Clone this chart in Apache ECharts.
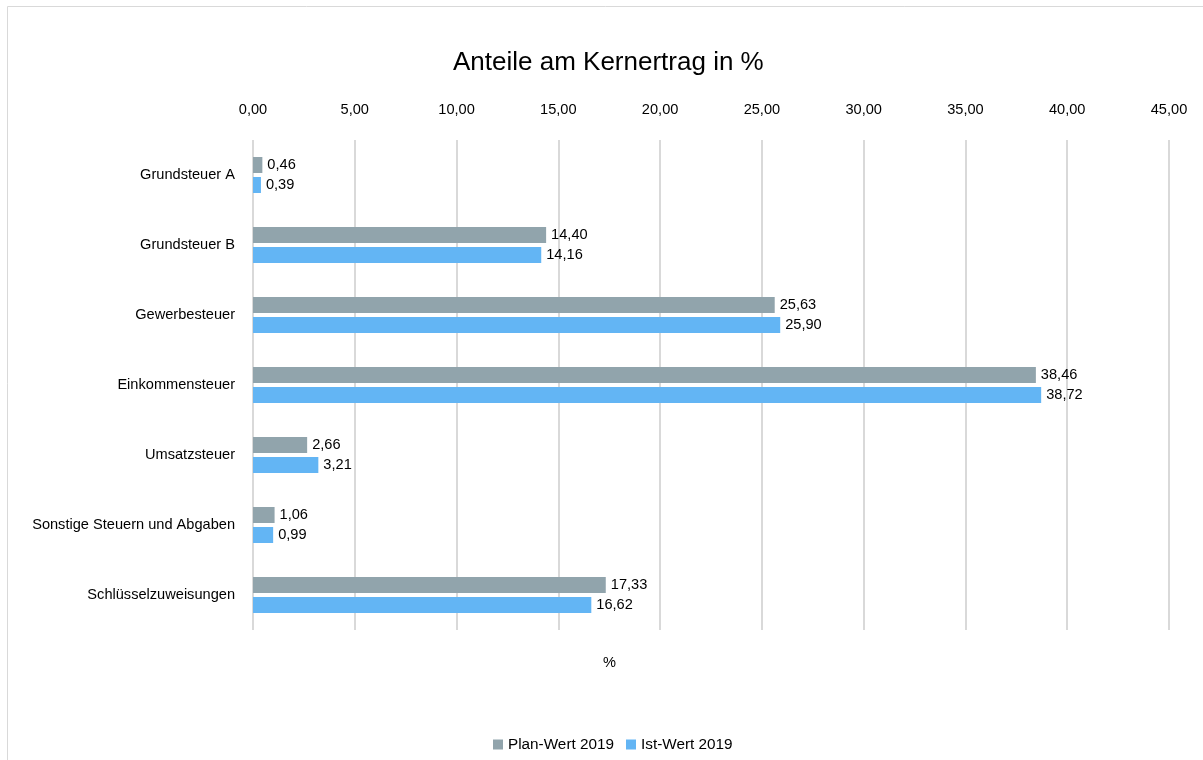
<!DOCTYPE html>
<html><head><meta charset="utf-8">
<script src="https://cdn.jsdelivr.net/npm/echarts@6/dist/echarts.min.js"></script>
<style>html,body{margin:0;padding:0;background:#fff}#c{width:1203px;height:760px}</style>
</head><body><div id="c"></div>
<script>
const categories = ["Grundsteuer A","Grundsteuer B","Gewerbesteuer","Einkommensteuer","Umsatzsteuer","Sonstige Steuern und Abgaben","Schlüsselzuweisungen"];
const planWert = [0.46,14.40,25.63,38.46,2.66,1.06,17.33];
const istWert = [0.39,14.16,25.90,38.72,3.21,0.99,16.62];
const seriesNames = ["Plan-Wert 2019","Ist-Wert 2019"];
const fmt = v => Number(v).toFixed(2).replace('.', ',');
const font = "'Liberation Sans', Arial, sans-serif";
const fs = 14.6;
const chart = echarts.init(document.getElementById('c'), null, {renderer:'canvas'});
const lbl = {show:true, position:'right', distance:5, color:'#000', fontFamily:font, fontSize:fs, formatter:p=>fmt(p.value)};
chart.setOption({
  animation:false,
  textStyle:{fontFamily:font},
  title:{text:'Anteile am Kernertrag in %', left:448, top:45,
    textStyle:{fontFamily:font, fontSize:26, fontWeight:'normal', color:'#000'}},
  graphic:[
    {type:'rect', shape:{x:7.5,y:6.5,width:1200,height:760}, style:{fill:'none', stroke:'#D9D9D9', lineWidth:1}, silent:true},
    {type:'text', left:603, top:655, style:{text:'%', fontFamily:font, fontSize:fs, fill:'#000'}}
  ],
  legend:{bottom:3, left:488, itemWidth:10, itemHeight:10, itemGap:12, icon:'rect',
    textStyle:{fontFamily:font, fontSize:15.3, color:'#000'}, data:seriesNames},
  grid:{left:253, right:34, top:140, bottom:130, containLabel:false},
  xAxis:{type:'value', position:'top', min:0, max:45, interval:5,
    axisLine:{show:false}, axisTick:{show:false},
    axisLabel:{margin:23, color:'#000', fontFamily:font, fontSize:fs, formatter:fmt},
    splitLine:{lineStyle:{color:'#D9D9D9', width:2}}},
  yAxis:{type:'category', inverse:true, data:categories,
    axisLine:{show:false}, axisTick:{show:false},
    axisLabel:{margin:18, color:'#000', fontFamily:font, fontSize:fs}},
  series:[
    {name:seriesNames[0], type:'bar', data:planWert, barWidth:16, barGap:'25%', itemStyle:{color:'#91A4AC'}, label:lbl},
    {name:seriesNames[1], type:'bar', data:istWert, barWidth:16, barGap:'25%', itemStyle:{color:'#63B5F4'}, label:lbl}
  ]
});
</script></body></html>
